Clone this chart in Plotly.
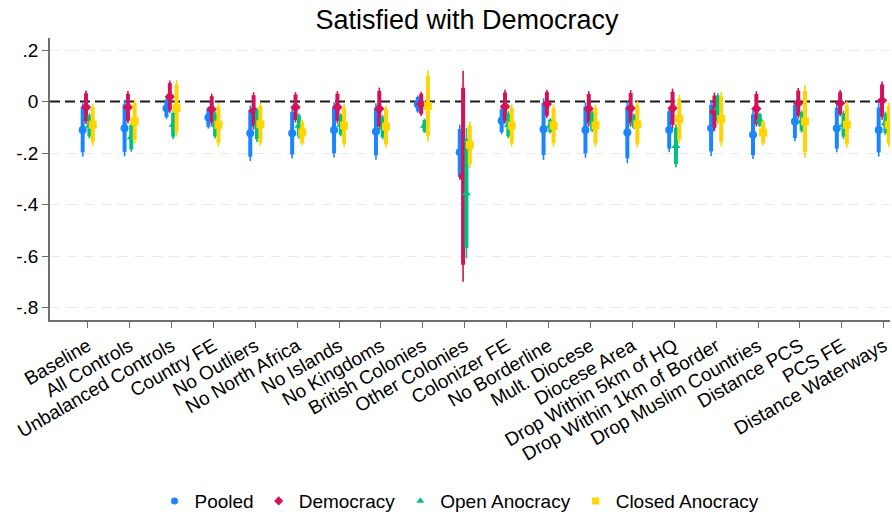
import plotly.graph_objects as go

categories = ["Baseline", "All Controls", "Unbalanced Controls", "Country FE", "No Outliers",
              "No North Africa", "No Islands", "No Kingdoms", "British Colonies", "Other Colonies",
              "Colonizer FE", "No Borderline", "Mult. Diocese", "Diocese Area", "Drop Within 5km of HQ",
              "Drop Within 1km of Border", "Drop Muslim Countries", "Distance PCS", "PCS FE",
              "Distance Waterways"]

# point estimates
pooled_est = [-0.110, -0.103, -0.026, -0.062, -0.123, -0.123, -0.110, -0.116, -0.010, -0.197,
              -0.074, -0.107, -0.110, -0.120, -0.110, -0.103, -0.129, -0.077, -0.103, -0.110]
democ_est = [-0.022, -0.022, 0.019, -0.030, -0.036, -0.022, -0.022, -0.028, -0.009, -0.290,
             -0.019, -0.009, -0.028, -0.026, -0.026, -0.039, -0.028, -0.006, -0.006, 0.004]
open_est = [-0.094, -0.138, -0.090, -0.090, -0.090, -0.094, -0.090, -0.099, -0.094, -0.356,
            -0.090, -0.094, -0.077, -0.077, -0.172, -0.026, -0.071, -0.077, -0.090, -0.084]
closed_est = [-0.090, -0.077, -0.026, -0.090, -0.088, -0.120, -0.093, -0.097, -0.017, -0.168,
              -0.093, -0.093, -0.093, -0.088, -0.068, -0.068, -0.120, -0.077, -0.090, -0.090]

# standard errors
pooled_se = [0.053, 0.056, 0.021, 0.022, 0.055, 0.050, 0.055, 0.056, 0.017, 0.055,
             0.027, 0.061, 0.055, 0.061, 0.044, 0.055, 0.048, 0.039, 0.048, 0.053]
democ_se = [0.033, 0.032, 0.032, 0.031, 0.037, 0.030, 0.032, 0.042, 0.024, 0.209,
            0.033, 0.028, 0.035, 0.036, 0.039, 0.038, 0.035, 0.030, 0.026, 0.038]
open_se = [0.025, 0.029, 0.028, 0.027, 0.034, 0.025, 0.023, 0.024, 0.014, 0.129,
           0.027, 0.015, 0.021, 0.015, 0.043, 0.030, 0.014, 0.022, 0.028, 0.023]
closed_se = [0.041, 0.044, 0.056, 0.043, 0.043, 0.025, 0.043, 0.042, 0.071, 0.046,
             0.042, 0.042, 0.042, 0.046, 0.048, 0.054, 0.025, 0.072, 0.046, 0.044]

series_names = ["Pooled", "Democracy", "Open Anocracy", "Closed Anocracy"]
series_est = [pooled_est, democ_est, open_est, closed_est]
series_se = [pooled_se, democ_se, open_se, closed_se]
colors = ["#1a85ff", "#d41159", "#00bf7f", "#ffd400"]
symbols = ["circle", "diamond", "triangle-up", "square"]
offsets = [-0.12, -0.04, 0.04, 0.12]

ytick_vals = [0.2, 0, -0.2, -0.4, -0.6, -0.8]
ytick_text = [".2", "0", "-.2", "-.4", "-.6", "-.8"]
grid_vals = [0.2, -0.2, -0.4, -0.6, -0.8]

fig = go.Figure()
for name, est, se, col, sym, off in zip(series_names, series_est, series_se, colors, symbols, offsets):
    xs = [i + off for i in range(len(categories))]
    for z, w in ((1.96, 1.6), (1.645, 4)):
        lx, ly = [], []
        for x, e, s in zip(xs, est, se):
            lx += [x, x, None]
            ly += [e - z * s, e + z * s, None]
        fig.add_trace(go.Scatter(x=lx, y=ly, mode="lines", line=dict(color=col, width=w),
                                 showlegend=False, hoverinfo="skip"))
    fig.add_trace(go.Scatter(x=xs, y=est, mode="markers", name=name, showlegend=False,
                             marker=dict(color=col, symbol=sym, size=8, line=dict(width=0))))

# legend entries (smaller symbols, as in the reference legend)
for name, col, sym in zip(series_names, colors, symbols):
    fig.add_trace(go.Scatter(x=[None], y=[None], mode="markers", name=name,
                             marker=dict(color=col, symbol=sym, size=7, line=dict(width=0))))

fig.add_shape(type="line", xref="paper", x0=0, x1=1, yref="y", y0=0, y1=0,
              line=dict(color="#1a1a1a", width=2, dash="10px,5px"), layer="below")

fig.update_layout(
    width=892, height=516,
    margin=dict(l=50, r=2, t=38, b=196, autoexpand=False),
    paper_bgcolor="white", plot_bgcolor="white",
    font=dict(family="Liberation Sans, Arial, Helvetica, sans-serif", color="black", size=19),
    title=dict(text="Satisfied with Democracy", x=0.5235, xanchor="center", y=0.963, yanchor="middle",
               font=dict(size=27, color="black")),
    showlegend=True,
    legend=dict(orientation="h", x=0.4875, xanchor="center", y=-0.642, yanchor="middle",
                font=dict(size=19), itemsizing="trace", traceorder="normal"),
    xaxis=dict(range=[-0.9, 19.15], tickmode="array", tickvals=list(range(len(categories))),
               ticktext=categories, tickangle=-30, showgrid=False, zeroline=False, automargin=False,
               showline=True, linecolor="#6e6e6e", linewidth=1.5, ticks="outside",
               ticklen=6, tickcolor="#6e6e6e", tickfont=dict(size=19)),
    yaxis=dict(range=[-0.848, 0.247], tickmode="array", tickvals=ytick_vals, ticktext=ytick_text,
               showgrid=False, zeroline=False, automargin=False,
               minor=dict(tickmode="array", tickvals=grid_vals, showgrid=True, gridcolor="#ebebeb",
                          griddash="10px,7px", gridwidth=1.2, ticks=""),
               showline=True, linecolor="#6e6e6e", linewidth=1.5, ticks="outside",
               ticklen=6, tickcolor="#6e6e6e", tickfont=dict(size=19)),
)

fig.write_html("out.html", config={"displayModeBar": False},
               post_script="document.body.style.margin='0';document.body.style.overflow='hidden';")
